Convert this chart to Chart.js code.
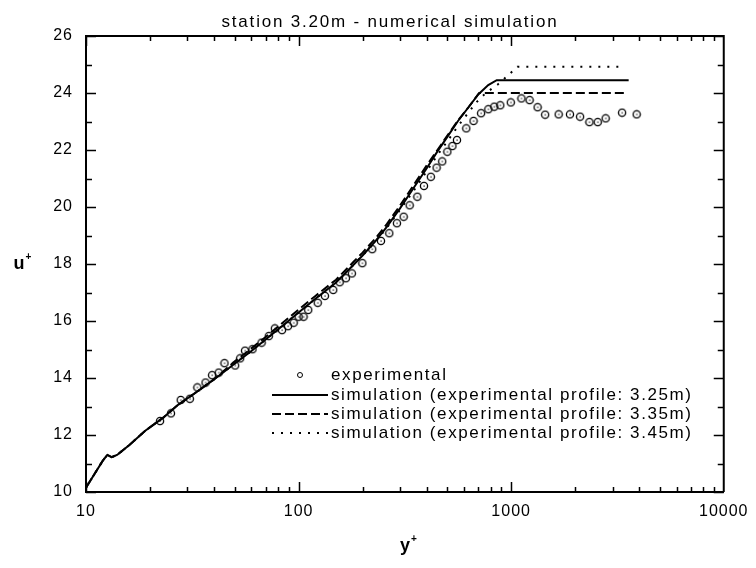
<!DOCTYPE html>
<html>
<head>
<meta charset="utf-8">
<script src="https://cdn.jsdelivr.net/npm/chart.js@4.4.1/dist/chart.umd.min.js"></script>
<style>
  html, body { margin: 0; padding: 0; background: #fff; }
  #wrap { width: 756px; height: 568px; }
</style>
</head>
<body>
<div id="wrap"><canvas id="chart"></canvas></div>
<script>
const titleText = 'station 3.20m - numerical simulation';
const xTicks = [10, 100, 1000, 10000];
const yTicks = [10, 12, 14, 16, 18, 20, 22, 24, 26];

// experimental profile (y+, u+)
const expX = [22.3, 25.1, 27.9, 30.8, 33.4, 36.5, 39.2, 42.1, 44.8, 50.3, 53.1, 56, 60.7, 67, 72.4, 77.3,
  83.6, 89.2, 94.8, 100, 105.5, 111, 123, 133, 145.5, 156, 167, 178, 199.5, 222, 244, 267, 290, 312,
  333, 362, 389, 419, 446, 474, 501, 529, 556, 615, 665, 722, 781, 833, 889, 996, 1117, 1221, 1331,
  1445, 1672, 1890, 2110, 2333, 2553, 2783, 3324, 3892];
const expU = [12.49, 12.76, 13.23, 13.27, 13.67, 13.84, 14.10, 14.19, 14.52, 14.44, 14.69, 14.96, 15.01, 15.24, 15.47, 15.74,
  15.68, 15.82, 15.94, 16.15, 16.15, 16.39, 16.64, 16.88, 17.09, 17.36, 17.50, 17.67, 18.03, 18.52, 18.81, 19.08, 19.43, 19.66,
  20.06, 20.36, 20.74, 21.06, 21.38, 21.60, 21.94, 22.14, 22.35, 22.76, 23.02, 23.29, 23.43, 23.52, 23.57, 23.67, 23.81, 23.75, 23.50,
  23.24, 23.25, 23.25, 23.17, 22.98, 22.98, 23.11, 23.31, 23.25];

// simulation, profile 3.25m
const sim325X = [10, 11, 12, 12.6, 13.2, 14, 16, 19, 23, 27, 33, 40, 50, 60, 70, 80, 100, 120, 150, 180,
  200, 230, 260, 300, 350, 400, 450, 500, 560, 630, 700, 780, 855, 3570];
const sim325U = [10.15, 10.65, 11.1, 11.3, 11.22, 11.3, 11.65, 12.15, 12.6, 13.05, 13.5, 13.95, 14.5, 14.95, 15.35, 15.7, 16.3, 16.78, 17.35, 17.95,
  18.3, 18.8, 19.3, 19.95, 20.7, 21.35, 21.95, 22.45, 23.0, 23.5, 23.95, 24.28, 24.45, 24.45];

// simulation, profile 3.35m
const sim335X = [10, 11, 12, 12.6, 13.2, 14, 16, 19, 23, 27, 33, 40, 50, 60, 70, 80, 100, 120, 150, 180,
  200, 230, 260, 300, 350, 400, 450, 500, 560, 630, 707, 3420];
const sim335U = [10.15, 10.65, 11.1, 11.3, 11.22, 11.3, 11.65, 12.15, 12.6, 13.05, 13.5, 13.95, 14.58, 15.04, 15.44, 15.8, 16.4, 16.88, 17.45, 18.05,
  18.4, 18.9, 19.4, 20.05, 20.8, 21.45, 22.0, 22.5, 23.02, 23.5, 24.0, 24.0];

// simulation, profile 3.45m
const sim345X = [10, 11, 12, 12.6, 13.2, 14, 16, 19, 23, 27, 33, 40, 50, 60, 70, 80, 100, 120, 150, 180,
  200, 230, 260, 300, 350, 400, 450, 500, 560, 620, 683, 760, 865, 960, 1070, 3250];
const sim345U = [10.15, 10.65, 11.1, 11.3, 11.22, 11.3, 11.65, 12.15, 12.6, 13.05, 13.5, 13.95, 14.5, 14.95, 15.35, 15.7, 16.3, 16.78, 17.35, 17.95,
  18.3, 18.78, 19.27, 19.9, 20.6, 21.25, 21.82, 22.3, 22.82, 23.25, 23.66, 24.0, 24.3, 24.6, 24.92, 24.92];

const legendLabels = [
  'experimental',
  'simulation (experimental profile: 3.25m)',
  'simulation (experimental profile: 3.35m)',
  'simulation (experimental profile: 3.45m)'
];

const pts = (xs, ys) => xs.map((x, i) => ({ x: x, y: ys[i] }));

// hollow circle with a dot in the middle
function ringDot() {
  const c = document.createElement('canvas');
  c.width = 10; c.height = 10;
  const g = c.getContext('2d');
  g.strokeStyle = '#000';
  g.lineWidth = 1.3;
  g.beginPath();
  g.arc(5, 5, 3.6, 0, Math.PI * 2);
  g.stroke();
  g.fillStyle = '#000';
  g.fillRect(4.5, 4.5, 1.2, 1.2);
  return c;
}

const font = 'Liberation Sans, Arial, sans-serif';

const framePlugin = {
  id: 'frame',
  beforeDraw(chart) {
    chart.ctx.letterSpacing = '1px';
  },
  afterDraw(chart) {
    const { ctx, chartArea: a, scales: { x, y } } = chart;
    ctx.save();
    ctx.strokeStyle = '#000';
    ctx.lineWidth = 2;
    ctx.beginPath();
    ctx.moveTo(a.left, a.top);
    ctx.lineTo(a.right, a.top);
    ctx.lineTo(a.right, a.bottom);
    ctx.stroke();

    // inward ticks on all four sides
    ctx.lineWidth = 1.5;
    ctx.beginPath();
    for (let d = 10; d < 10000; d *= 10) {
      for (let k = 1; k <= 9; k++) {
        const px = Math.round(x.getPixelForValue(k * d)) + 0.5;
        const len = k === 1 ? 10 : 5;
        ctx.moveTo(px, a.bottom); ctx.lineTo(px, a.bottom - len);
        ctx.moveTo(px, a.top); ctx.lineTo(px, a.top + len);
      }
    }
    for (let v = 10; v <= 26; v++) {
      const py = Math.round(y.getPixelForValue(v)) + 0.5;
      const len = v % 2 === 0 ? 10 : 6;
      ctx.moveTo(a.left, py); ctx.lineTo(a.left + len, py);
      ctx.moveTo(a.right, py); ctx.lineTo(a.right - len, py);
    }
    ctx.stroke();

    // title
    ctx.fillStyle = '#000';
    ctx.letterSpacing = '1.8px';
    ctx.font = '17px ' + font;
    ctx.textAlign = 'center';
    ctx.textBaseline = 'middle';
    ctx.fillText(titleText, 390, 22);

    // axis titles with superscript plus
    ctx.letterSpacing = '0px';
    const axisTitle = (base, cx, cy) => {
      ctx.font = 'bold 18px ' + font;
      ctx.textAlign = 'left';
      ctx.textBaseline = 'middle';
      const w = ctx.measureText(base).width;
      ctx.fillText(base, cx - w / 2 - 3, cy);
      ctx.font = 'bold 10px ' + font;
      ctx.fillText('+', cx + w / 2 - 2, cy - 7);
    };
    axisTitle('u', 22, 264);
    axisTitle('y', 408, 546);

    // legend
    const rows = [375, 395, 414, 433];
    ctx.letterSpacing = '1.6px';
    ctx.font = '17px ' + font;
    chart.data.datasets.forEach((ds, i) => {
      const ry = rows[i];
      if (ds.showLine) {
        ctx.strokeStyle = ds.borderColor;
        ctx.lineWidth = ds.borderWidth;
        ctx.setLineDash(ds.borderDash || []);
        ctx.beginPath();
        ctx.moveTo(272, ry);
        ctx.lineTo(328, ry);
        ctx.stroke();
        ctx.setLineDash([]);
      } else {
        ctx.strokeStyle = '#000';
        ctx.lineWidth = 1;
        ctx.beginPath();
        ctx.arc(300, ry, 2.5, 0, Math.PI * 2);
        ctx.stroke();
      }
      ctx.textAlign = 'left';
      ctx.textBaseline = 'middle';
      ctx.fillText(legendLabels[i], 331, ry);
    });
    ctx.restore();
  }
};

new Chart(document.getElementById('chart'), {
  type: 'scatter',
  data: {
    datasets: [
      { label: legendLabels[0], data: pts(expX, expU), showLine: false, pointStyle: ringDot(), pointRadius: 4, order: 0 },
      { label: legendLabels[1], data: pts(sim325X, sim325U), showLine: true, borderColor: '#000', borderWidth: 2, pointRadius: 0, order: 1 },
      { label: legendLabels[2], data: pts(sim335X, sim335U), showLine: true, borderColor: '#000', borderWidth: 2, borderDash: [9, 4], pointRadius: 0, order: 2 },
      { label: legendLabels[3], data: pts(sim345X, sim345U), showLine: true, borderColor: '#000', borderWidth: 2, borderDash: [2, 7], pointRadius: 0, order: 3 }
    ]
  },
  options: {
    responsive: true,
    maintainAspectRatio: false,
    animation: false,
    layout: { padding: { left: 0, right: 26, top: 36, bottom: 0 } },
    plugins: {
      legend: { display: false },
      tooltip: { enabled: false },
      title: { display: false }
    },
    scales: {
      x: {
        type: 'logarithmic',
        min: 10,
        max: 10000,
        afterBuildTicks: s => { s.ticks = xTicks.map(v => ({ value: v })); },
        afterFit: s => { s.height = 76; },
        grid: { display: false, drawTicks: false },
        border: { display: true, color: '#000', width: 2 },
        ticks: {
          color: '#000',
          font: { family: font, size: 16 },
          padding: 10,
          maxRotation: 0,
          autoSkip: false,
          callback: v => String(v)
        }
      },
      y: {
        type: 'linear',
        min: 10,
        max: 26,
        afterBuildTicks: s => { s.ticks = yTicks.map(v => ({ value: v })); },
        afterFit: s => { s.width = 86; },
        grid: { display: false, drawTicks: false },
        border: { display: true, color: '#000', width: 2 },
        ticks: {
          color: '#000',
          font: { family: font, size: 16 },
          padding: 13,
          callback: v => String(v)
        }
      }
    }
  },
  plugins: [framePlugin]
});
</script>
</body>
</html>
